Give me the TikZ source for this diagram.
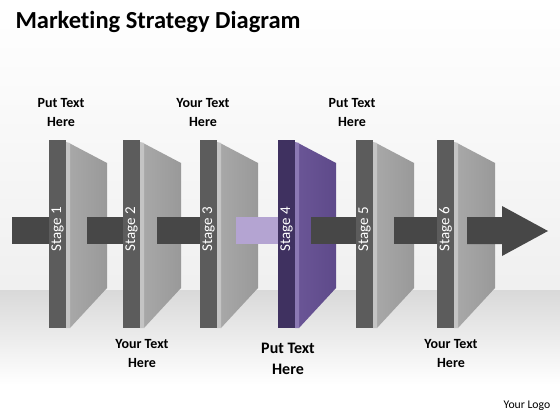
\documentclass[tikz,border=0pt]{standalone}
\usepackage{fontspec}
\setmainfont[Ligatures=NoCommon]{Carlito}
\definecolor{strip}{HTML}{5C5C5C}
\definecolor{face}{HTML}{999999}
\definecolor{faceL}{HTML}{A8A8A8}
\definecolor{edge}{HTML}{C4C4C4}
\definecolor{bar}{HTML}{474747}
\definecolor{pstrip}{HTML}{3F3160}
\definecolor{pface}{HTML}{5E4A8A}
\definecolor{pfaceL}{HTML}{6A5596}
\definecolor{pedge}{HTML}{8C79B4}
\definecolor{pbar}{HTML}{B4A4D2}
\tikzset{
  lbl/.style={font=\bfseries\fontsize{14}{19}\selectfont, align=center, text=black},
  lblbig/.style={font=\bfseries\fontsize{16}{21}\selectfont, align=center, text=black},
  stagelbl/.style={rotate=90, text=white, font=\fontsize{15}{16}\selectfont},
}
\newcommand\mypanel[5]{%
  \fill[#2] (#1,140) rectangle (#1+17,328);
  \shade[left color=#4, right color=#3] (#1+20,143) -- (#1+58,163) -- (#1+58,288) -- (#1+21,328) -- cycle;
  \fill[#5] (#1+17,142) -- (#1+21,143) -- (#1+21,328) -- (#1+17,328) -- cycle;
}
\begin{document}
\begin{tikzpicture}[x=1pt,y=-1pt]
\useasboundingbox (0,0) rectangle (560,420);
% background
\shade[top color=white, bottom color=white!94!black] (0,0) rectangle (560,290);
\shade[top color=white!85!black, bottom color=white] (0,290) rectangle (560,385);
\fill[white] (0,385) rectangle (560,420);
% title
\node[anchor=west, font=\bfseries\fontsize{24.5}{28}\selectfont] (title) at (12,22) {Marketing Strategy Diagram};
% bars and panels
\fill[bar] (12,217) rectangle (49,244);
\mypanel{49}{strip}{face}{faceL}{edge}
\fill[bar] (87,217) rectangle (123,244);
\mypanel{123}{strip}{face}{faceL}{edge}
\fill[bar] (157,217) rectangle (200,244);
\mypanel{200}{strip}{face}{faceL}{edge}
\fill[pbar] (236,217) rectangle (278,244);
\mypanel{278}{pstrip}{pface}{pfaceL}{pedge}
\fill[bar] (311,217) rectangle (356,244);
\mypanel{356}{strip}{face}{faceL}{edge}
\fill[bar] (394,217) rectangle (437,244);
\mypanel{437}{strip}{face}{faceL}{edge}
\fill[bar] (467,217) -- (502,217) -- (502,206) -- (548,231) -- (502,256) -- (502,244) -- (467,244) -- cycle;
% stage labels
\node[stagelbl] (s1) at (57.5,229) {Stage 1};
\node[stagelbl] (s2) at (131.5,229) {Stage 2};
\node[stagelbl] (s3) at (208.5,229) {Stage 3};
\node[stagelbl] (s4) at (286.5,229) {Stage 4};
\node[stagelbl] (s5) at (364.5,229) {Stage 5};
\node[stagelbl] (s6) at (445.5,229) {Stage 6};
% text labels
\node[lbl] (t1) at (61,113) {Put Text\\Here};
\node[lbl] (t3) at (203,113) {Your Text\\Here};
\node[lbl] (t5) at (352,113) {Put Text\\Here};
\node[lbl] (b2) at (142,354) {Your Text\\Here};
\node[lblbig] (b4) at (288,359) {Put Text\\Here};
\node[lbl] (b6) at (451,354) {Your Text\\Here};
\node[font=\fontsize{11.7}{13}\selectfont] (logo) at (527,406) {Your Logo};
\end{tikzpicture}
\end{document}
